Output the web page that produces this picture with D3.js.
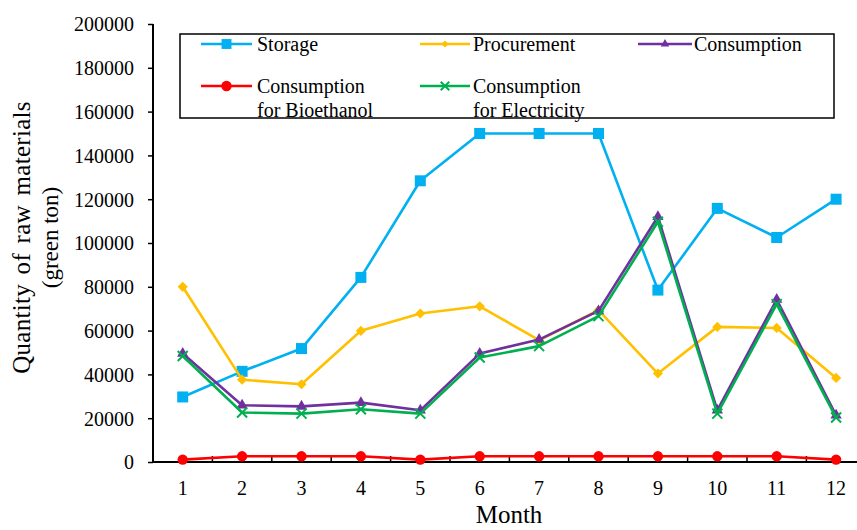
<!DOCTYPE html>
<html>
<head>
<meta charset="utf-8">
<script src="https://cdn.jsdelivr.net/npm/d3@7"></script>
<style>
  html, body { margin: 0; padding: 0; background: #fff; overflow: hidden; }
  svg { display: block; font-family: "Liberation Serif", "Times New Roman", serif; }
</style>
</head>
<body>
<svg id="chart" width="857" height="530"></svg>
<script>
const months = [1, 2, 3, 4, 5, 6, 7, 8, 9, 10, 11, 12];
const yTicks = [0, 20000, 40000, 60000, 80000, 100000, 120000, 140000, 160000, 180000, 200000];

const storage     = [29700, 41400, 51800, 84300, 128400, 150000, 150000, 150000, 78500, 115800, 102500, 120000];
const procurement = [80000, 37600, 35500, 59900, 67800, 71100, 55600, 69300, 40400, 61700, 61200, 38400];
const consumption = [49500, 25900, 25400, 27100, 23600, 49500, 55900, 69000, 112000, 23600, 74200, 21300];
const bioethanol  = [1100, 2600, 2600, 2600, 1100, 2600, 2600, 2600, 2600, 2600, 2600, 1100];
const electricity = [48400, 22600, 22100, 24100, 22100, 47700, 52900, 66600, 109700, 22100, 72100, 20300];

const seriesNames = ["Storage", "Procurement", "Consumption", "Consumption\nfor Bioethanol", "Consumption\nfor Electricity"];

(function () {
const svg = d3.select("#chart");

const mLeft = 153, mBottom = 462, mTop = 24;
const band = 59.4;
const x = d3.scaleBand().domain(months).range([mLeft, mLeft + band * months.length]).padding(0);
const y = d3.scaleLinear().domain([0, 200000]).range([mBottom, mTop]);

const series = [
  { name: seriesNames[0], values: storage,     color: "#00B0F0", marker: "square" },
  { name: seriesNames[1], values: procurement, color: "#FFC000", marker: "diamond" },
  { name: seriesNames[2], values: consumption, color: "#7030A0", marker: "triangle" },
  { name: seriesNames[3], values: bioethanol,  color: "#FF0000", marker: "circle" },
  { name: seriesNames[4], values: electricity, color: "#00B050", marker: "x" }
];

function drawMarker(g, type, color, scale) {
  const s = scale || 1;
  if (type === "square") {
    g.append("path").attr("d", d3.symbol(d3.symbolSquare, 121 * s * s)()).attr("fill", color);
  } else if (type === "diamond") {
    g.append("path").attr("d", d3.symbol(d3.symbolSquare, 52 * s * s)()).attr("fill", color)
      .attr("transform", "rotate(45)");
  } else if (type === "triangle") {
    g.append("path").attr("d", d3.symbol(d3.symbolTriangle, 55 * s * s)()).attr("fill", color);
  } else if (type === "circle") {
    g.append("path").attr("d", d3.symbol(d3.symbolCircle, 85 * s * s)()).attr("fill", color);
  } else if (type === "x") {
    const r = 5 * s;
    g.append("path").attr("d", `M${-r},${-r}L${r},${r}M${r},${-r}L${-r},${r}`)
      .attr("stroke", color).attr("stroke-width", 2).attr("fill", "none");
  }
}

// Axes
const yAxis = d3.axisLeft(y).tickValues(yTicks).tickSize(5).tickPadding(14).tickFormat(d3.format("d"));
const gy = svg.append("g").attr("transform", `translate(${mLeft},0)`).call(yAxis);
gy.select(".domain").attr("stroke", "#000").attr("stroke-width", 2).attr("d", `M0,${mBottom + 1}V${mTop}`);
gy.selectAll(".tick line").attr("stroke", "#000").attr("stroke-width", 1.5);
gy.selectAll(".tick text").attr("font-size", 20).attr("fill", "#000")
  .attr("font-family", "Liberation Serif").attr("dy", "0.34em");

const xAxis = d3.axisBottom(x).tickSize(0).tickPadding(19);
const gx = svg.append("g").attr("transform", `translate(0,${mBottom})`).call(xAxis);
gx.select(".domain").attr("stroke", "#000").attr("stroke-width", 2).attr("d", `M${mLeft - 1},0H${mLeft + band * 12}`);
gx.selectAll(".tick text").attr("font-size", 20).attr("fill", "#000").attr("font-family", "Liberation Serif");

// inward tick marks at band boundaries
gx.selectAll(".bound").data(months.slice(1)).enter().append("line")
  .attr("class", "bound")
  .attr("x1", d => x(d)).attr("x2", d => x(d))
  .attr("y1", 0).attr("y2", -6)
  .attr("stroke", "#000").attr("stroke-width", 1.5);

// Axis titles
svg.append("text").attr("x", 509).attr("y", 523).attr("text-anchor", "middle")
  .attr("font-size", 25).attr("fill", "#000").text("Month");

const yt = svg.append("g").attr("transform", "translate(0,237.5) rotate(-90)");
yt.append("text").attr("x", 0).attr("y", 30).attr("text-anchor", "middle")
  .attr("font-size", 25).attr("fill", "#000").attr("word-spacing", 3).attr("letter-spacing", 0.3)
  .text("Quantity of  raw materials");
yt.append("text").attr("x", 0).attr("y", 58).attr("text-anchor", "middle")
  .attr("font-size", 23).attr("fill", "#000")
  .text("(green ton)");

// Lines
const line = d3.line().x((d, i) => x(months[i]) + x.bandwidth() / 2).y(d => y(d));
series.forEach(s => {
  const g = svg.append("g");
  g.append("path").datum(s.values).attr("d", line)
    .attr("fill", "none").attr("stroke", s.color).attr("stroke-width", 2.6)
    .attr("stroke-linejoin", "round");
  s.values.forEach((v, i) => {
    const mg = g.append("g").attr("transform", `translate(${x(months[i]) + x.bandwidth() / 2},${y(v)})`);
    drawMarker(mg, s.marker, s.color, 1);
  });
});

// Legend
const lg = svg.append("g");
lg.append("rect").attr("x", 180).attr("y", 34).attr("width", 654).attr("height", 84)
  .attr("fill", "#fff").attr("stroke", "#000").attr("stroke-width", 1.5);

const legendPos = [
  { lx1: 201, lx2: 252, ty: 44, tx: 257 },
  { lx1: 420, lx2: 470, ty: 44, tx: 473 },
  { lx1: 638, lx2: 692, ty: 44, tx: 694 },
  { lx1: 201, lx2: 252, ty: 86, tx: 257 },
  { lx1: 420, lx2: 470, ty: 86, tx: 473 }
];
const legendScale = [0.9, 0.7, 0.75, 1, 0.85];
series.forEach((s, i) => {
  const p = legendPos[i];
  lg.append("line").attr("x1", p.lx1).attr("x2", p.lx2).attr("y1", p.ty).attr("y2", p.ty)
    .attr("stroke", s.color).attr("stroke-width", 2.6);
  const mg = lg.append("g").attr("transform", `translate(${(p.lx1 + p.lx2) / 2},${p.ty})`);
  drawMarker(mg, s.marker, s.color, legendScale[i]);
  const lines = s.name.split("\n");
  const t = lg.append("text").attr("x", p.tx).attr("y", p.ty + 7).attr("font-size", 20).attr("fill", "#000");
  lines.forEach((ln, k) => {
    t.append("tspan").attr("x", p.tx).attr("dy", k === 0 ? 0 : 23.5).text(ln);
  });
});
})();
</script>
</body>
</html>
